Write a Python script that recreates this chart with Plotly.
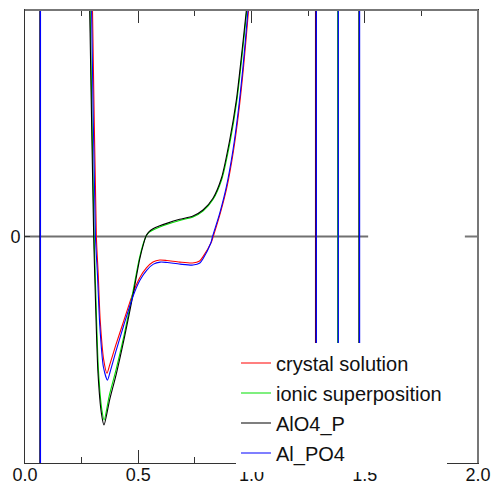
import plotly.graph_objects as go

# Interaction energy curves (arbitrary units, x in nm-like distance units)
x_crystal = [0.294, 0.298, 0.315, 0.323, 0.332, 0.3475, 0.362, 0.374, 0.400, 0.433, 0.477, 0.506,
             0.536, 0.565, 0.595, 0.626, 0.683, 0.740, 0.771, 0.786, 0.823, 0.831, 0.862, 0.892,
             0.921, 0.943, 0.965, 0.987, 0.997]
y_crystal = [1.2, 1.0, 0.0, -0.161, -0.369, -0.545, -0.604, -0.567, -0.482, -0.382, -0.249, -0.183,
             -0.139, -0.113, -0.104, -0.106, -0.113, -0.117, -0.108, -0.089, -0.024, 0.0, 0.102, 0.22,
             0.382, 0.544, 0.75, 1.0, 1.132]

x_ionic = [0.2846, 0.2877, 0.3053, 0.3097, 0.3243, 0.3393, 0.3495, 0.3725, 0.4015, 0.4382, 0.4748,
           0.5044, 0.5220, 0.5340, 0.5460, 0.5651, 0.5950, 0.6256, 0.683, 0.7417, 0.7859, 0.83,
           0.8681, 0.9058, 0.9353, 0.9574, 0.9795, 1.0007]
y_ionic = [1.22, 1.0, 0.0, -0.158, -0.59, -0.765, -0.81, -0.70, -0.59, -0.432, -0.253, -0.099,
           -0.032, 0.0, 0.017, 0.029, 0.042, 0.053, 0.071, 0.086, 0.112, 0.163, 0.25, 0.42, 0.6,
           0.79, 1.0, 1.22]

x_alo4p = [0.2826, 0.2857, 0.3033, 0.3077, 0.3223, 0.3373, 0.3488, 0.374, 0.4035, 0.4402, 0.4768,
           0.5064, 0.5240, 0.5360, 0.5480, 0.5651, 0.5950, 0.6256, 0.683, 0.7417, 0.7859, 0.83,
           0.8671, 0.9038, 0.9333, 0.9554, 0.9775, 0.9987]
y_alo4p = [1.22, 1.0, 0.0, -0.162, -0.604, -0.781, -0.832, -0.72, -0.605, -0.440, -0.258, -0.100,
           -0.030, 0.005, 0.022, 0.034, 0.047, 0.058, 0.0759, 0.0905, 0.117, 0.1687, 0.257, 0.426,
           0.603, 0.794, 1.0, 1.22]

x_alpo4 = [0.290, 0.294, 0.311, 0.320, 0.330, 0.346, 0.364, 0.376, 0.402, 0.435, 0.479, 0.508,
           0.538, 0.567, 0.597, 0.628, 0.685, 0.742, 0.772, 0.786, 0.820, 0.828, 0.8596, 0.8892,
           0.9183, 0.9404, 0.9625, 0.9845, 0.995]
y_alpo4 = [1.2, 1.0, 0.0, -0.17, -0.39, -0.575, -0.634, -0.597, -0.505, -0.395, -0.258, -0.192,
           -0.148, -0.122, -0.113, -0.115, -0.122, -0.126, -0.117, -0.098, -0.03, 0.0, 0.1024, 0.22,
           0.382, 0.544, 0.75, 1.0, 1.15]

# Singular points where each curve jumps across the whole energy range
spikes_crystal = [1.283, 1.381]
spikes_ionic = [1.381, 1.476]
spikes_alo4p = [0.066, 1.285, 1.475]
spikes_alpo4 = [0.068, 1.286, 1.383, 1.477]
spike_top, spike_bottom = 1.5, -1.5

series = [
    ("crystal solution", x_crystal, y_crystal, spikes_crystal, "#ff0000"),
    ("ionic superposition", x_ionic, y_ionic, spikes_ionic, "#00e000"),
    ("AlO4_P", x_alo4p, y_alo4p, spikes_alo4p, "#000000"),
    ("Al_PO4", x_alpo4, y_alpo4, spikes_alpo4, "#0000ff"),
]

FONT = "Liberation Sans, Arial, Helvetica, sans-serif"

fig = go.Figure()
for name, xs, ys, spikes, color in series:
    # smooth curve
    fig.add_trace(go.Scatter(x=xs, y=ys, mode="lines", name=name, legendgroup=name,
                             line=dict(color=color, width=1.1, shape="spline", smoothing=0.7)))
    # vertical jumps
    sx, sy = [], []
    for s in spikes:
        sx += [s, s, None]
        sy += [spike_top, spike_bottom, None]
    fig.add_trace(go.Scatter(x=sx, y=sy, mode="lines", name=name, legendgroup=name,
                             showlegend=False, line=dict(color=color, width=1.3)))

axis_common = dict(showgrid=False, zeroline=False, showline=True, linecolor="#333333",
                   linewidth=1, ticks="inside", tickcolor="#333333", mirror="ticks",
                   automargin=False,
                   tickfont=dict(family=FONT, size=18, color="#111111"))

fig.update_layout(
    width=491, height=484,
    margin=dict(l=25, r=13, t=10, b=21, autoexpand=False),
    paper_bgcolor="white", plot_bgcolor="white",
    showlegend=True,
    legend=dict(x=0.4658, y=0.2638, xanchor="left", yanchor="top", bgcolor="white",
                borderwidth=0, itemwidth=30, tracegroupgap=1,
                font=dict(family=FONT, size=20, color="#111111")),
    xaxis=dict(range=[0, 2], tickvals=[0, 0.5, 1.0, 1.5, 2.0],
               ticktext=["0.0", "0.5", "1.0", "1.5", "2.0"], ticklen=13,
               ticklabelstandoff=-5,
               minor=dict(ticks="inside", ticklen=6, dtick=0.25, tickcolor="#333333"),
               **axis_common),
    yaxis=dict(range=[-1, 1], tickvals=[0], ticktext=["0"], ticklen=5, **axis_common),
    shapes=[
        # zero reference line
        dict(type="line", xref="x", yref="y", x0=0, x1=1.515, y0=0, y1=0,
             line=dict(color="#707070", width=2), layer="below"),
        # grey frame on top and right
        dict(type="line", xref="paper", yref="paper", x0=0, x1=1, y0=1, y1=1,
             line=dict(color="#777777", width=2)),
        dict(type="line", xref="paper", yref="paper", x0=1, x1=1, y0=0, y1=1,
             line=dict(color="#777777", width=2)),
        dict(type="line", xref="paper", yref="y", x0=0.971, x1=1, y0=0, y1=0,
             line=dict(color="#777777", width=2)),
    ],
)

fig.write_html("out.html")
